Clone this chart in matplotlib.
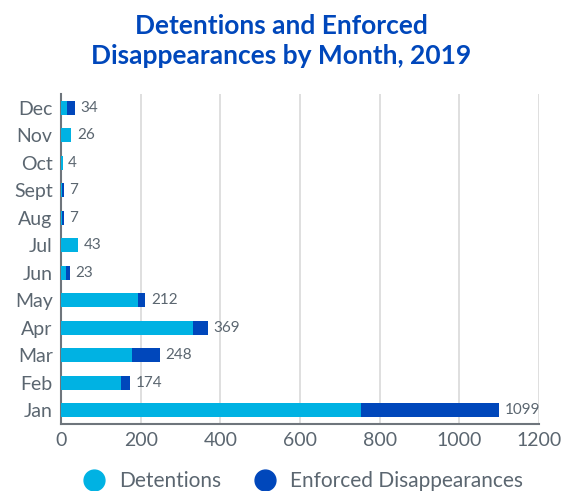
import matplotlib
matplotlib.use("Agg")
import matplotlib.pyplot as plt
from matplotlib.lines import Line2D

months = ["Jan", "Feb", "Mar", "Apr", "May", "Jun", "Jul", "Aug", "Sept", "Oct", "Nov", "Dec"]
detentions = [754, 150, 178, 332, 194, 13, 43, 3, 3, 4, 26, 15]
disappearances = [345, 24, 70, 37, 18, 10, 0, 4, 4, 0, 0, 19]
totals = [1099, 174, 248, 369, 212, 23, 43, 7, 7, 4, 26, 34]
x_ticks = [0, 200, 400, 600, 800, 1000, 1200]

light = "#00B2E3"
dark = "#0047BB"
grey_text = "#5B6670"

plt.rcParams["font.family"] = ["Lato", "DejaVu Sans"]

fig = plt.figure(figsize=(5.62, 4.91), dpi=100)
ax = fig.add_axes([61 / 562, 1 - 424 / 491, 478 / 562, 330 / 491])

y = list(range(len(months)))
ax.barh(y, detentions, height=0.52, color=light, zorder=3)
ax.barh(y, disappearances, left=detentions, height=0.52, color=dark, zorder=3)

for yi, t in zip(y, totals):
    ax.text(t + 14, yi, str(t), va="center", ha="left", fontsize=11, color=grey_text)

ax.set_xlim(0, 1200)
ax.set_ylim(-0.5, len(months) - 0.5)
ax.set_xticks(x_ticks)
ax.set_xticklabels([str(v) for v in x_ticks])
ax.set_yticks(y)
ax.set_yticklabels(months)
ax.tick_params(axis="both", length=0, labelsize=14, colors=grey_text, pad=6)
ax.grid(axis="x", color="#D9D9D9", linewidth=1.2, zorder=0)
for side in ["top", "right"]:
    ax.spines[side].set_visible(False)
for side in ["left", "bottom"]:
    ax.spines[side].set_color("#6E757C")
    ax.spines[side].set_linewidth(1.5)

fig.text(0.5, 1 - 41 / 491, "Detentions and Enforced\nDisappearances by Month, 2019",
         ha="center", va="center", fontsize=19, fontweight="bold", color=dark,
         linespacing=1.32)

handles = [
    Line2D([], [], marker="o", linestyle="", markersize=15, color=light),
    Line2D([], [], marker="o", linestyle="", markersize=15, color=dark),
]
fig.legend(handles, ["Detentions", "Enforced Disappearances"], loc="center",
           bbox_to_anchor=(0.53, 1 - 481 / 491), ncol=2, frameon=False,
           fontsize=15, labelcolor=grey_text, handletextpad=0.2, columnspacing=1.1)

fig.savefig("out.png", dpi=100)
